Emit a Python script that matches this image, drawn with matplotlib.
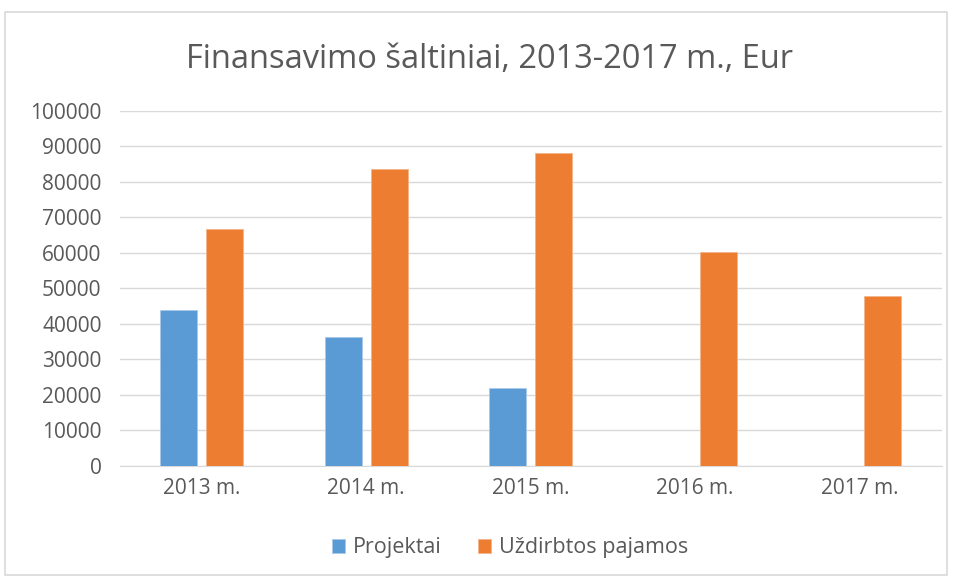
import numpy as np
import matplotlib.pyplot as plt
from matplotlib.patches import Rectangle

years = ['2013 m.', '2014 m.', '2015 m.', '2016 m.', '2017 m.']
projektai = [44000, 36400, 21900, 0, 0]
uzdirbtos = [66700, 83700, 88300, 60200, 48000]
yticks = np.arange(0, 100001, 10000)

plt.rcParams['font.family'] = ['Open Sans', 'DejaVu Sans']

fig = plt.figure(figsize=(9.57, 5.81), dpi=100)
ax = fig.add_axes([0.125, 0.198, 0.859, 0.611])

# outer chart frame
fig.patches.append(Rectangle((0.005, 0.01), 0.985, 0.97, transform=fig.transFigure,
                             fill=False, edgecolor='#d9d9d9', linewidth=1.2))

x = np.arange(len(years))
w = 0.225
ax.bar(x - 0.14, projektai, w, color='#5B9BD5', edgecolor='#a9c9ea', linewidth=0.6,
       label='Projektai', zorder=3)
ax.bar(x + 0.14, uzdirbtos, w, color='#ED7D31', edgecolor='#f6b48a', linewidth=0.6,
       label='Uždirbtos pajamos', zorder=3)

ax.set_xlim(-0.5, len(years) - 0.5)
ax.set_ylim(0, 100000)
ax.set_yticks(yticks)
ax.set_yticklabels([str(v) for v in yticks], color='#595959', fontsize=15)
ax.set_xticks(x)
ax.set_xticklabels(years, color='#595959', fontsize=15)
ax.tick_params(axis='both', length=0)
ax.tick_params(axis='y', pad=13)
ax.tick_params(axis='x', pad=9)
ax.grid(axis='y', color='#d9d9d9', linewidth=1, zorder=0)
for s in ['top', 'right', 'left']:
    ax.spines[s].set_visible(False)
ax.spines['bottom'].set_color('#d9d9d9')

fig.text(0.511, 0.897, 'Finansavimo šaltiniai, 2013-2017 m., Eur', ha='center', va='center',
         fontsize=23.5, color='#595959')

fig.legend(loc='center', bbox_to_anchor=(0.533, 0.057), ncol=2, frameon=False,
           fontsize=15.5, labelcolor='#595959', handlelength=0.6, handleheight=0.6,
           columnspacing=1.7, handletextpad=0.35)

fig.savefig('out.png', dpi=100)
